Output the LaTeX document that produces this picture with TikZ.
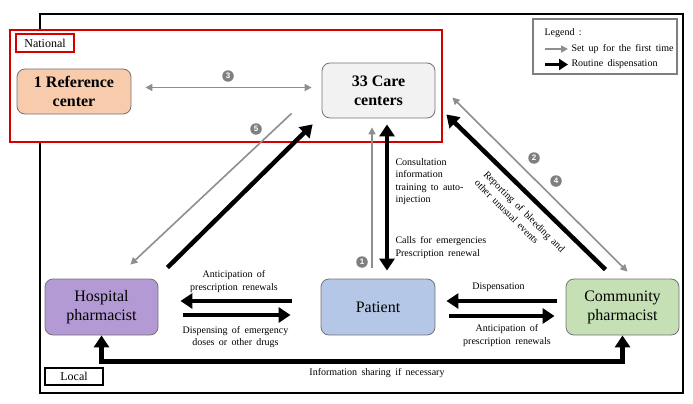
\documentclass[tikz,border=0pt]{standalone}
\usepackage{fontspec}
\setmainfont{Liberation Serif}
\setsansfont{Liberation Sans}
\usetikzlibrary{arrows.meta}
\definecolor{natred}{HTML}{D40000}
\definecolor{refpeach}{HTML}{F8CBAD}
\definecolor{carewhite}{HTML}{F2F2F2}
\definecolor{hosppurple}{HTML}{B49AD4}
\definecolor{patblue}{HTML}{B4C7E7}
\definecolor{commgreen}{HTML}{C5E0B4}
\definecolor{arrgray}{HTML}{8E8E8E}
\definecolor{numgray}{HTML}{7F7F7F}
\newcommand{\widewords}{\spaceskip=4.3pt plus 1pt\relax}
\begin{document}
\begin{tikzpicture}[x=1pt,y=-1pt]
      \tikzstyle{every node}=[font=\fontsize{10}{12.5}\selectfont\widewords]
      \tikzstyle{box}=[draw=black!55,line width=0.8pt,rounded corners=8pt,minimum width=113pt,minimum height=56pt,align=center,font=\fontsize{16}{19}\selectfont]
      \tikzstyle{bigbold}=[font=\bfseries\fontsize{16}{19}\selectfont]
      \tikzstyle{firsttime}=[draw=arrgray,line width=1.6pt,>={Triangle[length=7pt,width=7pt]},->]
      \tikzstyle{routine}=[draw=black,line width=4.5pt,>={Triangle[length=12pt,width=15pt]},->]
      \tikzstyle{num}=[circle,fill=numgray,text=white,inner sep=0pt,minimum size=11.5pt,font=\sffamily\bfseries\fontsize{8}{9}\selectfont]
      \tikzstyle{tag}=[line width=1.5pt,minimum width=58pt,minimum height=18pt,inner sep=0pt,font=\fontsize{12}{14}\selectfont]
      \useasboundingbox (0,0) rectangle (693,404);
      %%% HELP LINES - uncomment to design/extend
      %\draw[step=50,gray,very thin] (0,0) grid (693,404);
      %% Frames
      \draw[line width=2.5pt] (40,14) rectangle (683,393);
      \draw[natred,line width=1.8pt,fill=white] (10,30) rectangle (442,142);
      \node (natl) at (45,43) [tag,draw=natred] {National};
      \node (locl) at (74,376.5) [tag,draw=black,minimum height=17pt] {Local};
      % Legend
      \draw[draw=numgray,line width=1.8pt] (533,19) rectangle (677,74);
      \node (lgtitle) at (541,33) [anchor=west] {Legend :};
      \node (lgfirst) at (568,49) [anchor=west] {Set up for the first time};
      \node (lgroutine) at (568,64.5) [anchor=west] {Routine dispensation};
      \draw[firsttime] ([xshift=-23pt]lgfirst.west) -- (lgfirst.west);
      \draw[line width=3.5pt,-{Triangle[length=9pt,width=11pt]}] ([xshift=-23pt]lgroutine.west) -- (lgroutine.west);
      %% Actors
      \node (ref) at (74,91.5) [box,bigbold,fill=refpeach,minimum width=114pt,minimum height=45pt] {1 Reference\\center};
      \node (care) at (378.5,90.5) [box,bigbold,fill=carewhite,minimum height=55pt] {33 Care\\centers};
      \node (hosp) at (101.5,307) [box,fill=hosppurple] {Hospital\\pharmacist};
      \node (pat) at (378,307) [box,fill=patblue,minimum width=114pt] {Patient};
      \node (comm) at (622.5,307) [box,fill=commgreen] {Community\\pharmacist};
      % 3 : reference center - care centers
      \draw[firsttime,<->] ([shift={(14,-4)}]ref.east) -- ([shift={(-10,-3)}]care.west);
      \node (n3) at (228,76) [num] {3};
      % 5 : care centers - hospital
      \draw[firsttime] ([shift={(-30,-5)}]care.south west) -- ([shift={(-28,-14)}]hosp.north east);
      \draw[routine] ([shift={(9,-11)}]hosp.north east) -- ([shift={(-9,6)}]care.south west);
      \node (n5) at (256,129) [num] {5};
      % 1 : patient - care centers
      \draw[firsttime] ([shift={(-6,-11)}]pat.north) -- ([shift={(-6.5,9)}]care.south);
      \draw[routine,<->] ([shift={(9,-8)}]pat.north) -- ([shift={(8.5,6)}]care.south);
      \node (n1) at (362,262) [num] {1};
      \node at (392,181.5) [anchor=west,align=left] {Consultation\\information\\training to auto-\\injection};
      \node at (392,247.5) [anchor=west,align=left] {Calls for emergencies\\Prescription renewal};
      % 2 and 4 : community pharmacist - care centers
      \draw[firsttime,<->] ([shift={(17,7)}]care.east) -- ([shift={(5,-7)}]comm.north);
      \draw[routine] ([shift={(-17,-9)}]comm.north) -- ([shift={(11,24)}]care.east);
      \node (n2) at (534,158) [num] {2};
      \node (n4) at (556,181) [num] {4};
      \node at (520,216) [rotate=-45,align=left] {Reporting of bleeding and\\other unusual events};
      % Hospital - patient
      \draw[routine] ([shift={(-29,-6)}]pat.west) -- ([shift={(22,-6)}]hosp.east);
      \draw[routine] ([shift={(25,8)}]hosp.east) -- ([shift={(-30,8)}]pat.west);
      \node at (234,281.5) [align=center] {Anticipation of\\prescription renewals};
      \node at (235.5,337) [align=center] {Dispensing of emergency\\doses or other drugs};
      % Patient - community pharmacist
      \draw[routine] ([shift={(-9,-6)}]comm.west) -- ([shift={(11,-6)}]pat.east);
      \draw[routine] ([shift={(14,9)}]pat.east) -- ([shift={(-11,9)}]comm.west);
      \node at (498.5,287) {Dispensation};
      \node at (507,335.5) [align=center] {Anticipation of\\prescription renewals};
      % Hospital - community pharmacist
      \draw[routine,<->] (hosp.south) -- ++(0,26) -| (comm.south);
      \node at (377,373) {Information sharing if necessary};
\end{tikzpicture}
\end{document}
